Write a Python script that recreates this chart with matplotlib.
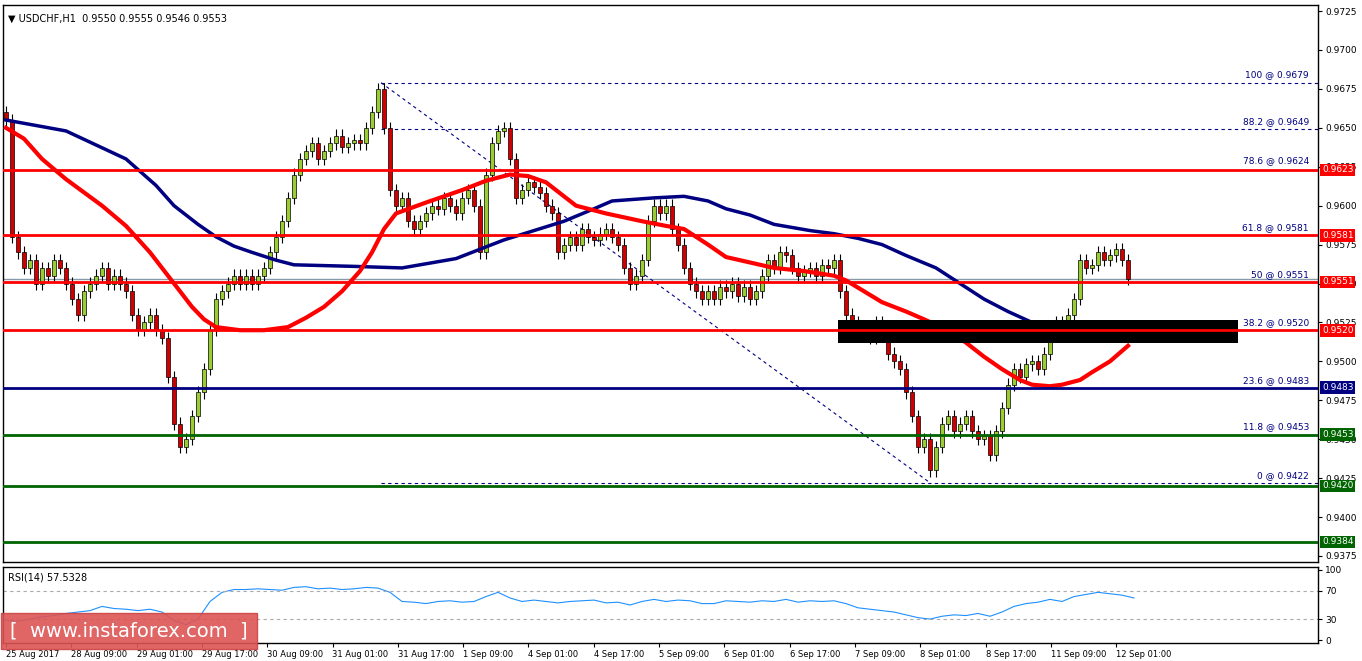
import matplotlib.pyplot as plt
from matplotlib.patches import Rectangle
import matplotlib.transforms as mtransforms

# 2-hour candles (closes), opens = previous close
closes = [
    0.9655, 0.9580, 0.9570, 0.9560, 0.9565, 0.9550, 0.9560, 0.9555, 0.9565, 0.9560,
    0.9550, 0.9540, 0.9530, 0.9545, 0.9550, 0.9555, 0.9560, 0.9550, 0.9555, 0.9550,
    0.9545, 0.9530, 0.9520, 0.9525, 0.9530, 0.9520, 0.9515, 0.9490, 0.9460, 0.9445,
    0.9450, 0.9465, 0.9480, 0.9495, 0.9520, 0.9540, 0.9545, 0.9550, 0.9555, 0.9550,
    0.9555, 0.9550, 0.9555, 0.9560, 0.9570, 0.9580, 0.9590, 0.9605, 0.9620, 0.9630,
    0.9635, 0.9640, 0.9630, 0.9635, 0.9640, 0.9645, 0.9638, 0.9640, 0.9642, 0.9640,
    0.9650, 0.9660, 0.9675, 0.9650, 0.9610, 0.9600, 0.9605, 0.9590, 0.9585, 0.9590,
    0.9595, 0.9600, 0.9598, 0.9605, 0.9600, 0.9595, 0.9605, 0.9610, 0.9600, 0.9570,
    0.9620, 0.9640, 0.9648, 0.9650, 0.9630, 0.9605, 0.9610, 0.9615, 0.9612, 0.9608,
    0.9600, 0.9595, 0.9570, 0.9575, 0.9580, 0.9575, 0.9585, 0.9580, 0.9578, 0.9582,
    0.9585, 0.9580, 0.9575, 0.9560, 0.9550, 0.9555, 0.9565, 0.9590, 0.9600, 0.9595,
    0.9600, 0.9585, 0.9575, 0.9560, 0.9550, 0.9545, 0.9540, 0.9545, 0.9540, 0.9548,
    0.9545, 0.9550, 0.9542, 0.9548, 0.9540, 0.9545, 0.9555, 0.9565, 0.9560, 0.9570,
    0.9568, 0.9560, 0.9555, 0.9558, 0.9560, 0.9555, 0.9562, 0.9560, 0.9565, 0.9545,
    0.9530, 0.9525, 0.9520, 0.9522, 0.9515, 0.9525, 0.9520, 0.9505, 0.9500, 0.9495,
    0.9480, 0.9465, 0.9445, 0.9450, 0.9430, 0.9445, 0.9460, 0.9465, 0.9455, 0.9460,
    0.9465, 0.9455, 0.9450, 0.9452, 0.9440, 0.9455, 0.9470, 0.9485, 0.9495, 0.9490,
    0.9498, 0.9500, 0.9495, 0.9505, 0.9520, 0.9525, 0.9522, 0.9530, 0.9540, 0.9565,
    0.9560, 0.9562, 0.9570, 0.9565, 0.9568, 0.9572, 0.9565, 0.9553,
]

# moving averages: (candle index, price)
red_ma_x = [0, 3, 6, 10, 16, 20, 24, 28, 31, 33, 35, 39, 43, 47, 50, 53, 56, 59, 61, 63, 65, 70, 76, 80, 84, 87, 90, 95, 100, 106, 110, 113, 117, 120, 128, 133, 138, 140, 143, 146, 150, 153, 157, 160, 163, 166, 169, 171, 174, 176, 179, 181, 184, 187]
red_ma_y = [0.9650, 0.9643, 0.9630, 0.9617, 0.9600, 0.9587, 0.9570, 0.9550, 0.9535, 0.9527, 0.9522, 0.9520, 0.9520, 0.9522, 0.9528, 0.9535, 0.9545, 0.9558, 0.9570, 0.9585, 0.9595, 0.9602, 0.9610, 0.9616, 0.9620, 0.9619, 0.9615, 0.9600, 0.9595, 0.9590, 0.9587, 0.9585, 0.9575, 0.9567, 0.9560, 0.9558, 0.9555, 0.9552, 0.9545, 0.9538, 0.9532, 0.9527, 0.9520, 0.9512, 0.9503, 0.9495, 0.9488, 0.9485, 0.9484, 0.9485, 0.9488, 0.9493, 0.9500, 0.9510]
blue_ma_x = [0, 10, 20, 25, 28, 32, 35, 38, 41, 45, 48, 58, 66, 75, 83, 93, 98, 101, 108, 113, 117, 120, 124, 128, 134, 138, 142, 146, 150, 155, 159, 163, 167, 171, 176, 180, 184, 187]
blue_ma_y = [0.9655, 0.9648, 0.9630, 0.9613, 0.9600, 0.9588, 0.9580, 0.9574, 0.9570, 0.9565, 0.9562, 0.9561, 0.9560, 0.9566, 0.9578, 0.9590, 0.9598, 0.9603, 0.9605, 0.9606, 0.9603, 0.9598, 0.9594, 0.9588, 0.9584, 0.9582, 0.9579, 0.9575, 0.9568, 0.9560, 0.9550, 0.9540, 0.9532, 0.9525, 0.9520, 0.9518, 0.9518, 0.9520]

# RSI(14), one value every 2 candles
rsi = [28, 27, 30, 33, 35, 38, 40, 42, 48, 45, 44, 42, 44, 40, 28, 22, 30, 55, 68, 72,
       72, 73, 72, 71, 75, 76, 73, 74, 72, 73, 75, 74, 68, 55, 54, 52, 55, 56, 54, 55,
       62, 68, 60, 55, 57, 55, 53, 55, 56, 57, 53, 54, 50, 55, 58, 55, 57, 56, 52, 52,
       56, 55, 54, 56, 55, 58, 54, 56, 55, 56, 52, 46, 44, 42, 40, 36, 32, 30, 34, 36,
       35, 38, 34, 40, 48, 52, 54, 58, 55, 62, 65, 68, 66, 64, 60]

levels = [0.9623, 0.9581, 0.9551, 0.9520, 0.9483, 0.9453, 0.9420, 0.9384]
level_colors = ['#ff0000', '#ff0000', '#ff0000', '#ff0000', '#000080', '#006400', '#006400', '#006400']

fib_labels = ['100 @ 0.9679', '88.2 @ 0.9649', '78.6 @ 0.9624', '61.8 @ 0.9581', '50 @ 0.9551',
              '38.2 @ 0.9520', '23.6 @ 0.9483', '11.8 @ 0.9453', '0 @ 0.9422']
fib_prices = [0.9679, 0.9649, 0.9624, 0.9581, 0.9551, 0.9520, 0.9483, 0.9453, 0.9422]

date_labels = ['25 Aug 2017', '28 Aug 09:00', '29 Aug 01:00', '29 Aug 17:00', '30 Aug 09:00',
               '31 Aug 01:00', '31 Aug 17:00', '1 Sep 09:00', '4 Sep 01:00', '4 Sep 17:00',
               '5 Sep 09:00', '6 Sep 01:00', '6 Sep 17:00', '7 Sep 09:00', '8 Sep 01:00',
               '8 Sep 17:00', '11 Sep 09:00', '12 Sep 01:00']

W, H = 1362, 661
fig = plt.figure(figsize=(W / 100, H / 100), dpi=100)
ax = fig.add_axes([3 / W, 1 - 562 / H, 1315 / W, 557 / H])
ax2 = fig.add_axes([3 / W, 1 - 643 / H, 1315 / W, 76 / H])

xmax = 1315 / 6
ax.set_xlim(-0.5, xmax - 0.5)
ax.set_ylim(0.93711, 0.97289)
ax2.set_xlim(-0.5, xmax - 0.5)
ax2.set_ylim(-4, 104)

# candles
for i, c in enumerate(closes):
    o = closes[i - 1] if i > 0 else 0.9660
    hi = max(o, c) + 0.0004
    lo = min(o, c) - 0.0004
    ax.vlines(i, lo, hi, color='black', linewidth=0.8, zorder=3)
    col = '#9acd32' if c >= o else '#d00000'
    ax.add_patch(Rectangle((i - 0.3, min(o, c)), 0.6, max(abs(c - o), 0.00003),
                           facecolor=col, edgecolor='black', linewidth=0.5, zorder=4))

ax.plot(blue_ma_x, blue_ma_y, color='#000080', linewidth=2.5, zorder=5)
ax.plot(red_ma_x, red_ma_y, color='#ff0000', linewidth=3, zorder=5)

# support / resistance
ax.axhline(0.9553, color='#8899aa', linewidth=1, zorder=2)
for lv, lc in zip(levels, level_colors):
    ax.axhline(lv, color=lc, linewidth=2, zorder=6)

# fibonacci
x0 = 62.5
for lab, p in zip(fib_labels, fib_prices):
    if lab.startswith(('100', '88.2', '0 @', '38.2')):
        ax.hlines(p, x0, xmax, color='#000080', linewidth=0.8, linestyles=(0, (3, 3)), zorder=2)
    ax.text(xmax - 2, p + 0.0002, lab, color='#000080', fontsize=6.5, ha='right', va='bottom', zorder=7)
ax.plot([x0, 154], [0.9679, 0.9422], color='#000080', linewidth=0.8, linestyle=(0, (3, 3)), zorder=2)

ax.add_patch(Rectangle((138.7, 0.95118), 66.7, 0.00147, facecolor='black', zorder=5.5))

# right axis
ax.yaxis.tick_right()
ticks = [0.9375 + 0.0025 * k for k in range(15)]
ax.set_yticks(ticks)
ax.set_yticklabels([f'{t:.4f}' for t in ticks], fontsize=6.5)
ax.tick_params(axis='y', length=3, pad=2)
ax.set_xticks([])
trans = mtransforms.blended_transform_factory(ax.transAxes, ax.transData)
for lv, lc in zip(levels, level_colors):
    ax.text(1.003, lv, f'{lv:.4f}', transform=trans, color='white', fontsize=6.5,
            va='center', ha='left', zorder=8, clip_on=False,
            bbox=dict(boxstyle='square,pad=0.2', facecolor=lc, edgecolor='none'))

ax.text(0.004, 0.985, '▼ USDCHF,H1  0.9550 0.9555 0.9546 0.9553', transform=ax.transAxes,
        fontsize=7, va='top', ha='left')

# RSI
ax2.plot([2 * k for k in range(len(rsi))], rsi, color='#1e90ff', linewidth=0.8)
for lv in (70, 30):
    ax2.axhline(lv, color='#aaaaaa', linewidth=0.8, linestyle=(0, (3, 3)))
ax2.yaxis.tick_right()
ax2.set_yticks([100, 70, 30, 0])
ax2.set_yticklabels(['100', '70', '30', '0'], fontsize=6.5)
ax2.tick_params(axis='y', length=3, pad=2)
ax2.set_xticks([k * 65.3 / 6 for k in range(len(date_labels))])
ax2.set_xticklabels(date_labels, fontsize=6, ha='left')
ax2.tick_params(axis='x', length=3, pad=2)
ax2.text(0.004, 0.93, 'RSI(14) 57.5328', transform=ax2.transAxes, fontsize=7, va='top')

for a in (ax, ax2):
    for s in a.spines.values():
        s.set_linewidth(1)

fig.text(129 / W, 1 - 631 / H, '[  www.instaforex.com  ]', color='white', fontsize=14,
         ha='center', va='center',
         bbox=dict(boxstyle='square,pad=0.45', facecolor='#dd5555', edgecolor='#cc4444', alpha=0.9))

fig.savefig('out.png', dpi=100)
